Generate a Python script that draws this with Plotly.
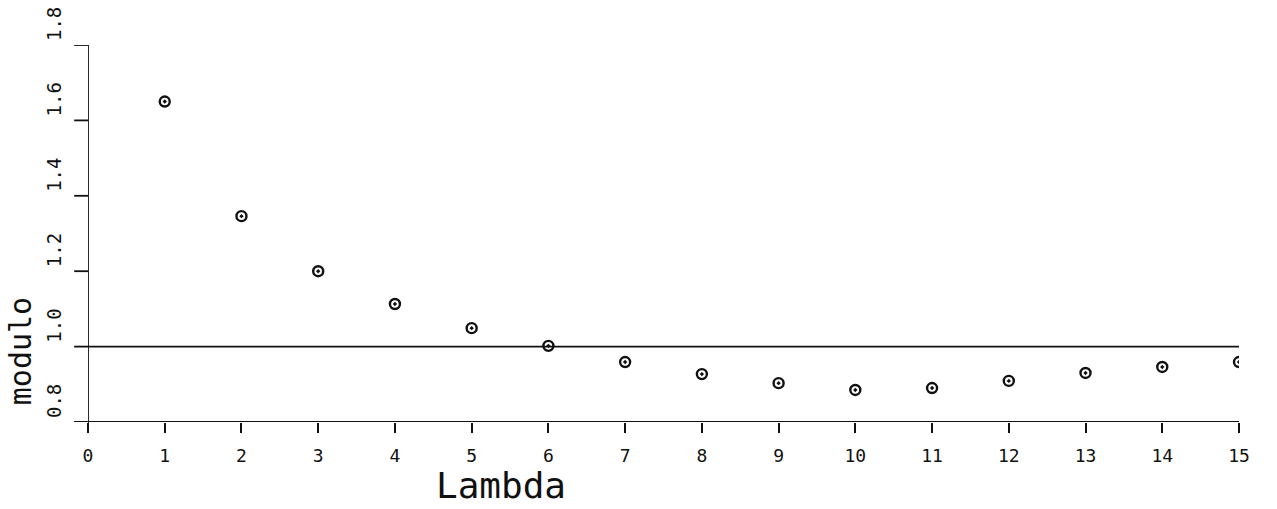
import plotly.graph_objects as go

# modulus against lambda
lam = [1, 2, 3, 4, 5, 6, 7, 8, 9, 10, 11, 12, 13, 14, 15]
modulo = [1.65, 1.346, 1.20, 1.113, 1.049, 1.002, 0.959, 0.927, 0.903,
          0.885, 0.890, 0.909, 0.930, 0.946, 0.959]

x_ticks = list(range(0, 16))
y_ticks = [0.8, 1.0, 1.2, 1.4, 1.6, 1.8]
y_tick_text = ["0.8", "1.0", "1.2", "1.4", "1.6", "1.8"]
ref_level = 1.0

FONT = "DejaVu Sans Mono"
INK = "#111111"
LW = 1.8

fig = go.Figure()

fig.add_trace(go.Scatter(
    x=lam, y=modulo, mode="markers",
    marker=dict(symbol="circle-open-dot", size=10, color=INK,
                line=dict(width=2.4, color=INK)),
    showlegend=False,
))

# horizontal reference line at modulus 1
fig.add_shape(type="line", xref="x", yref="y",
              x0=0, x1=15, y0=ref_level, y1=ref_level,
              line=dict(color=INK, width=LW))

# axis lines, slightly extended past the origin
fig.add_shape(type="line", xref="paper", yref="y",
              x0=-0.012, x1=1, y0=0.8, y1=0.8, line=dict(color=INK, width=LW))
fig.add_shape(type="line", xref="x", yref="paper",
              x0=0, x1=0, y0=-0.028, y1=1, line=dict(color=INK, width=LW))
# y ticks drawn to the left of the axis, labels rotated and sitting above each tick
for v, label in zip(y_ticks, y_tick_text):
    fig.add_shape(type="line", xref="paper", yref="y",
                  x0=-0.012, x1=0, y0=v, y1=v, line=dict(color=INK, width=LW))
    fig.add_annotation(xref="paper", yref="y", x=-0.0295, y=v,
                       text=label, textangle=-90, yshift=2,
                       showarrow=False, xanchor="center", yanchor="bottom",
                       font=dict(family=FONT, size=19, color=INK))

fig.add_annotation(xref="paper", yref="y", x=-0.059, y=0.988,
                   text="modulo", textangle=-90, showarrow=False,
                   xanchor="center", yanchor="middle",
                   font=dict(family=FONT, size=30, color=INK))
fig.add_annotation(xref="x", yref="paper", x=5.38, y=-0.168,
                   text="Lambda", showarrow=False,
                   xanchor="center", yanchor="middle",
                   font=dict(family=FONT, size=36, color=INK))

fig.update_xaxes(range=[0, 15], tickvals=x_ticks,
                 ticks="outside", ticklen=10, tickwidth=LW, tickcolor=INK,
                 ticklabelstandoff=7,
                 showgrid=False, zeroline=False, showline=False,
                 tickfont=dict(family=FONT, size=18, color=INK))
fig.update_yaxes(range=[0.8, 1.8], showticklabels=False, ticks="",
                 showgrid=False, zeroline=False, showline=False)

fig.update_layout(
    width=1277, height=509,
    margin=dict(l=88, r=38, t=45, b=87),
    paper_bgcolor="white", plot_bgcolor="white",
)

fig.write_html("out.html")
